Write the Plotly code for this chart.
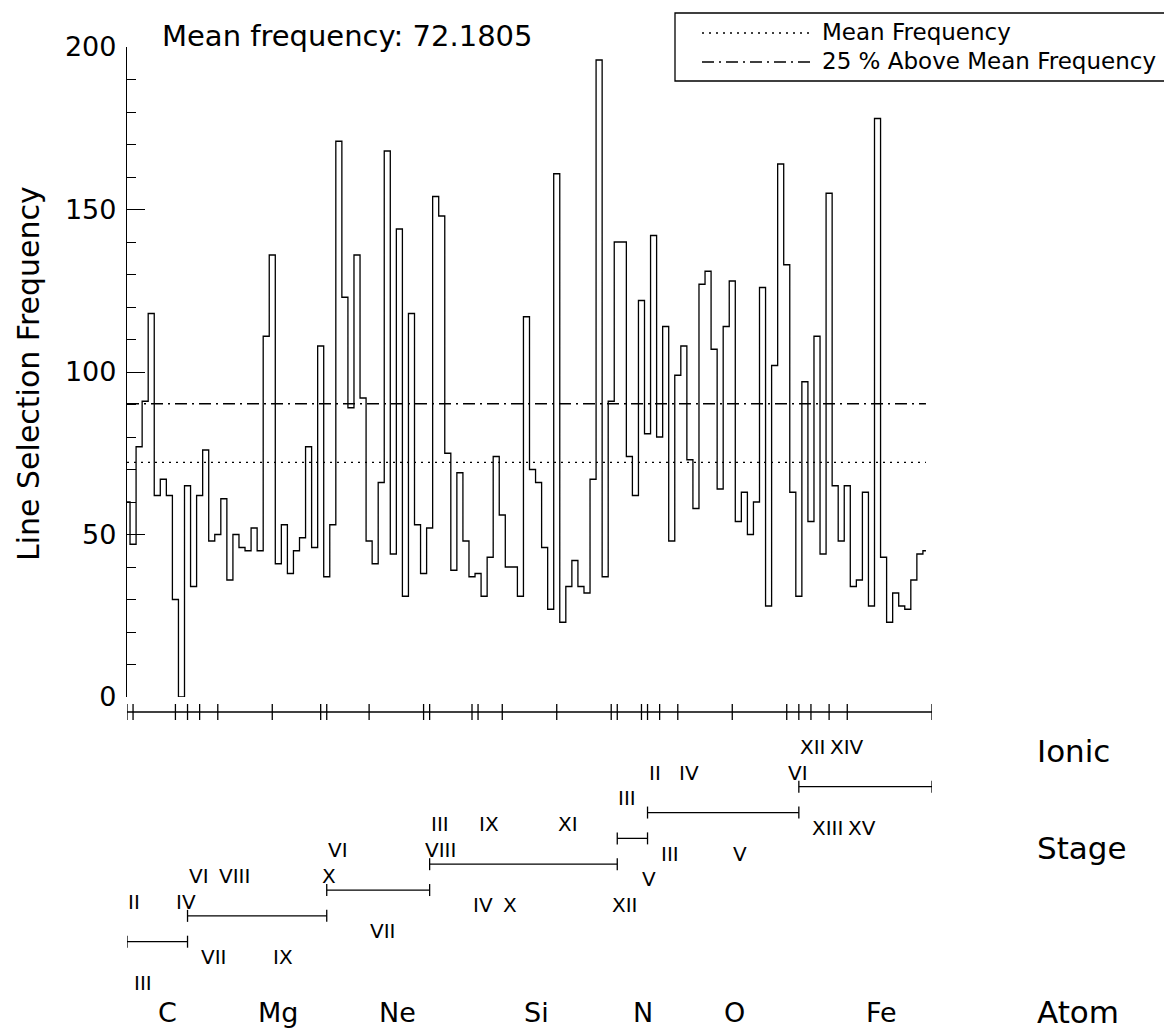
import numpy as np
import plotly.graph_objects as go

# Selection frequency of every spectral line, ordered by atom and ionic stage
frequency = [60, 47, 77, 91, 118, 62, 67, 62, 30, 0,
             65, 34, 62, 76, 48, 50, 61, 36, 50, 46,
             45, 52, 45, 111, 136, 41, 53, 38, 45, 49,
             77, 46, 108, 37, 53, 171, 123, 89, 136, 92,
             48, 41, 66, 168, 44, 144, 31, 118, 53, 38,
             52, 154, 148, 75, 39, 69, 48, 37, 38, 31,
             43, 74, 56, 40, 40, 31, 117, 70, 66, 46,
             27, 161, 23, 34, 42, 34, 32, 67, 196, 37,
             91, 140, 140, 74, 62, 122, 81, 142, 80, 114,
             48, 99, 108, 73, 58, 127, 131, 107, 64, 114,
             128, 54, 63, 50, 60, 126, 28, 102, 164, 133,
             63, 31, 97, 54, 111, 44, 155, 65, 48, 65,
             34, 36, 63, 28, 178, 43, 23, 32, 28, 27,
             36, 44, 45]

atoms = ["C", "Mg", "Ne", "Si", "N", "O", "Fe"]
ion_stages = [["II", "III", "IV"],
              ["VI", "VII", "VIII", "IX", "X"],
              ["VI", "VII", "VIII"],
              ["III", "IV", "IX", "X", "XI", "XII"],
              ["III", "V"],
              ["II", "III", "IV", "V", "VI"],
              ["XII", "XIII", "XIV", "XV"]]
lines_per_ion = [[1, 7, 2],
                 [2, 3, 9, 8, 1],
                 [7, 9, 1],
                 [7, 1, 4, 9, 9, 1],
                 [4, 1],
                 [2, 3, 9, 9, 2],
                 [2, 3, 3, 14]]

y_ticks = [0, 50, 100, 150, 200]

n_lines = len(frequency)
line_index = np.arange(n_lines)
mean_freq = float(np.mean(frequency))
upper_freq = 1.25 * mean_freq

# canvas and plotting-area geometry in pixels
W, H = 1164, 1030
LEFT, RIGHT, TOP, BOTTOM = 127, 932, 47, 697


def xp(px):
    return (px - LEFT) / (RIGHT - LEFT)


def yp(py):
    return (BOTTOM - py) / (BOTTOM - TOP)


FONT = "DejaVu Sans"
INK = "black"
LW = 1.3
DOT = "2px,5px"
DASHDOT = "12px,5px,2px,5px"

fig = go.Figure()

# step histogram of the line selection frequency
fig.add_trace(go.Scatter(
    x=line_index, y=frequency, mode="lines",
    line=dict(color=INK, width=LW, shape="hvh"),
    hoverinfo="skip", showlegend=False))

# mean and 25 % above the mean
fig.add_trace(go.Scatter(
    x=[0, n_lines - 1], y=[mean_freq, mean_freq], mode="lines",
    line=dict(color=INK, width=LW, dash=DOT),
    hoverinfo="skip", showlegend=False))
fig.add_trace(go.Scatter(
    x=[0, n_lines - 1], y=[upper_freq, upper_freq], mode="lines",
    line=dict(color=INK, width=LW, dash=DASHDOT),
    hoverinfo="skip", showlegend=False))

shapes = []
annotations = []

# ion-boundary tick axis under the histogram
ion_counts = [n for atom in lines_per_ion for n in atom]
ion_bounds = np.concatenate([[0], np.cumsum(ion_counts)])
axis_y = 712
shapes.append(dict(type="line", xref="x", yref="paper",
                   x0=0, x1=n_lines, y0=yp(axis_y), y1=yp(axis_y),
                   line=dict(color=INK, width=LW)))
for b in ion_bounds:
    shapes.append(dict(type="line", xref="x", yref="paper",
                       x0=b, x1=b, y0=yp(axis_y - 8), y1=yp(axis_y + 8),
                       line=dict(color=INK, width=LW)))

# atom brackets with ionic-stage labels alternating above and below
atom_sizes = [sum(a) for a in lines_per_ion]
atom_bounds = np.concatenate([[0], np.cumsum(atom_sizes)])
bracket_top, bracket_step = 941.7, 25.83
label_font = dict(family=FONT, size=20, color=INK)
for k, atom in enumerate(atoms):
    y_b = bracket_top - bracket_step * k
    a0, a1 = atom_bounds[k], atom_bounds[k + 1]
    shapes.append(dict(type="line", xref="x", yref="paper",
                       x0=a0, x1=a1, y0=yp(y_b), y1=yp(y_b),
                       line=dict(color=INK, width=LW)))
    for xb in (a0, a1):
        shapes.append(dict(type="line", xref="x", yref="paper",
                           x0=xb, x1=xb, y0=yp(y_b - 6), y1=yp(y_b + 6),
                           line=dict(color=INK, width=LW)))
    start = a0
    for j, (stage, cnt) in enumerate(zip(ion_stages[k], lines_per_ion[k])):
        y_lab = y_b - 40 if j % 2 == 0 else y_b + 41
        annotations.append(dict(text=stage, xref="x", yref="paper",
                                x=start, y=yp(y_lab), xanchor="left",
                                yanchor="middle", showarrow=False,
                                borderpad=0, font=label_font))
        start += cnt
    annotations.append(dict(text=atom, xref="x", yref="paper",
                            x=(a0 + a1) / 2, y=yp(1012), xanchor="left",
                            yanchor="middle", showarrow=False, borderpad=0,
                            font=dict(family=FONT, size=27, color=INK)))

# row captions on the right
for txt, py in (("Ionic", 751), ("Stage", 848), ("Atom", 1012)):
    annotations.append(dict(text=txt, xref="paper", yref="paper",
                            x=xp(1036), y=yp(py), xanchor="left",
                            yanchor="middle", showarrow=False, borderpad=0,
                            font=dict(family=FONT, size=31, color=INK)))

# mean value caption
annotations.append(dict(text=f"Mean frequency: {mean_freq:.4f}",
                        xref="paper", yref="paper", x=xp(161), y=yp(36),
                        xanchor="left", yanchor="middle", showarrow=False,
                        borderpad=0, font=dict(family=FONT, size=29, color=INK)))

# y-axis title
annotations.append(dict(text="Line Selection Frequency", xref="paper",
                        yref="paper", x=xp(28), y=yp(374), textangle=-90,
                        xanchor="center", yanchor="middle", showarrow=False,
                        font=dict(family=FONT, size=30, color=INK)))

# key box
shapes.append(dict(type="rect", xref="paper", yref="paper",
                   x0=xp(675), x1=xp(1180), y0=yp(81), y1=yp(13),
                   line=dict(color=INK, width=LW), fillcolor="white"))
for py, dash, txt in ((33, DOT, "Mean Frequency"),
                      (62, DASHDOT, "25 % Above Mean Frequency")):
    shapes.append(dict(type="line", xref="paper", yref="paper",
                       x0=xp(702), x1=xp(813), y0=yp(py), y1=yp(py),
                       line=dict(color=INK, width=LW, dash=dash)))
    annotations.append(dict(text=txt, xref="paper", yref="paper",
                            x=xp(821), y=yp(py - 1), xanchor="left",
                            yanchor="middle", showarrow=False, borderpad=0,
                            font=dict(family=FONT, size=23, color=INK)))

fig.update_layout(
    width=W, height=H,
    margin=dict(l=LEFT, r=W - RIGHT, t=TOP, b=H - BOTTOM, pad=0),
    paper_bgcolor="white", plot_bgcolor="white",
    showlegend=False,
    font=dict(family=FONT, color=INK),
    shapes=shapes, annotations=annotations,
    xaxis=dict(range=[0, n_lines], visible=False, showgrid=False,
               zeroline=False),
    yaxis=dict(range=[0, 200], tickvals=y_ticks, ticks="inside",
               ticklen=18, tickwidth=LW, tickcolor=INK,
               showline=True, linecolor=INK, linewidth=LW,
               showgrid=False, zeroline=False,
               tickfont=dict(family=FONT, size=27, color=INK),
               ticklabelstandoff=4,
               minor=dict(dtick=10, ticks="inside", ticklen=9,
                          tickwidth=LW, tickcolor=INK, showgrid=False)),
)

fig.write_html("out.html")
